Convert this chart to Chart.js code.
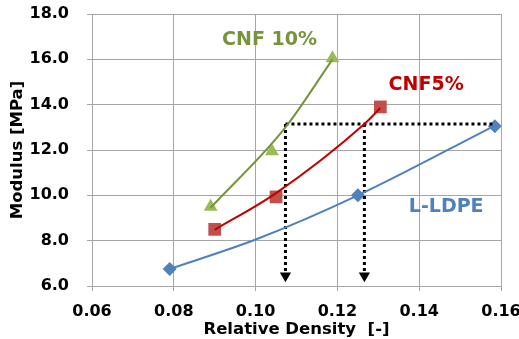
<!DOCTYPE html>
<html>
<head>
<meta charset="utf-8">
<script src="https://cdn.jsdelivr.net/npm/chart.js@4.4.1/dist/chart.umd.min.js"></script>
<style>
    html, body { margin: 0; padding: 0; background: #fff; }
</style>
</head>
<body>
<canvas id="modulusChart" width="519" height="339"></canvas>
<script>
// Measured points (relative density vs modulus)
const ldpeDensity = [0.079, 0.125, 0.1585];
const ldpeModulus = [6.75, 10.0, 13.05];
const cnf5Density = [0.090, 0.105, 0.1305];
const cnf5Modulus = [8.5, 9.93, 13.9];
const cnf10Density = [0.089, 0.104, 0.1188];
const cnf10Modulus = [9.5, 11.95, 16.05];

// Trend curves
const ldpeTrendDensity = [0.079, 0.100, 0.125, 0.1585];
const ldpeTrendModulus = [6.75, 8.05, 10.0, 13.08];
const cnf5TrendDensity = [0.090, 0.105, 0.1266, 0.1305];
const cnf5TrendModulus = [8.48, 10.1, 13.15, 13.85];
const cnf10TrendDensity = [0.089, 0.1073, 0.1188];
const cnf10TrendModulus = [9.45, 13.0, 16.0];

// Reference (dotted) lines
const refLineDensity = [0.1073, 0.1585];
const refLineModulus = [13.15, 13.15];
const arrowDensity = [0.1073, 0.1266];
const arrowModulus = [13.15, 6.45];

// Axis ticks
const xTicks = [0.06, 0.08, 0.10, 0.12, 0.14, 0.16];
const yTicks = [6.0, 8.0, 10.0, 12.0, 14.0, 16.0, 18.0];

const seriesNames = ["L-LDPE", "CNF5%", "CNF 10%"];

const toPoints = (xs, ys) => xs.map((v, i) => ({ x: v, y: ys[i] }));

const FONT = "'DejaVu Sans', Verdana, sans-serif";
const GRID = '#a6a6a6';

// Series name labels drawn inside the plot
const seriesLabels = {
    id: 'seriesLabels',
    afterDatasetsDraw(chart) {
        const { ctx, scales: { x, y } } = chart;
        const spots = [
            { at: [0.1466, 9.49], color: '#4f81bd' },
            { at: [0.1417, 14.87], color: '#c00000' },
            { at: [0.1034, 16.85], color: '#77933c' }
        ];
        ctx.save();
        ctx.font = "bold 19px " + FONT;
        ctx.textAlign = 'center';
        ctx.textBaseline = 'middle';
        seriesNames.forEach((name, i) => {
            ctx.fillStyle = spots[i].color;
            ctx.fillText(name, x.getPixelForValue(spots[i].at[0]), y.getPixelForValue(spots[i].at[1]));
        });
        ctx.restore();
    }
};

const dotted = (data) => ({
    type: 'line',
    data: data,
    borderColor: '#000',
    borderWidth: 3,
    borderDash: [3, 3],
    pointRadius: 0,
    fill: false
});

const arrow = (x) => ({
    type: 'line',
    data: toPoints([x, x], arrowModulus),
    borderColor: '#000',
    borderWidth: 3,
    borderDash: [3, 3],
    pointStyle: 'triangle',
    pointRadius: [0, 6.5],
    pointRotation: 180,
    pointBackgroundColor: '#000',
    pointBorderColor: '#000',
    pointBorderWidth: 0,
    fill: false
});

const curve = (xs, ys, color) => ({
    type: 'line',
    data: toPoints(xs, ys),
    borderColor: color,
    borderWidth: 2,
    cubicInterpolationMode: 'monotone',
    pointRadius: 0,
    fill: false
});

const markers = (xs, ys, style, color, r) => ({
    type: 'scatter',
    data: toPoints(xs, ys),
    pointStyle: style,
    pointRadius: r,
    pointBackgroundColor: color,
    pointBorderColor: color,
    pointBorderWidth: 0
});

const tickFont = { family: FONT, size: 16, weight: 'bold' };
const titleFont = { family: FONT, size: 16.5, weight: 'bold' };

new Chart(document.getElementById('modulusChart'), {
    type: 'scatter',
    data: {
        datasets: [
            curve(ldpeTrendDensity, ldpeTrendModulus, '#4f81bd'),
            curve(cnf5TrendDensity, cnf5TrendModulus, '#c00000'),
            curve(cnf10TrendDensity, cnf10TrendModulus, '#77933c'),
            dotted(toPoints(refLineDensity, refLineModulus)),
            arrow(arrowDensity[0]),
            arrow(arrowDensity[1]),
            markers(ldpeDensity, ldpeModulus, 'rectRot', '#4f81bd', 7),
            markers(cnf5Density, cnf5Modulus, 'rect', '#c0504d', 9),
            markers(cnf10Density, cnf10Modulus, 'triangle', '#9bbb59', 8)
        ]
    },
    options: {
        responsive: false,
        animation: false,
        layout: { padding: { left: 0, right: 18, top: 14, bottom: 0 } },
        plugins: {
            legend: { display: false },
            tooltip: { enabled: false }
        },
        scales: {
            x: {
                type: 'linear',
                min: xTicks[0],
                max: xTicks[xTicks.length - 1],
                afterBuildTicks: (s) => { s.ticks = xTicks.map(v => ({ value: v })); },
                afterFit: (s) => { s.height = 53; s.paddingLeft = 0; s.paddingRight = 0; },
                ticks: {
                    color: '#000',
                    padding: 11,
                    font: tickFont,
                    callback: (v) => Number(v).toFixed(2)
                },
                grid: { color: GRID, tickLength: 5 },
                border: { color: GRID },
                title: {
                    display: true,
                    text: 'Relative Density  [-]',
                    color: '#000',
                    font: titleFont,
                    padding: { top: 0, bottom: -1 }
                }
            },
            y: {
                type: 'linear',
                min: yTicks[0],
                max: yTicks[yTicks.length - 1],
                afterBuildTicks: (s) => { s.ticks = yTicks.map(v => ({ value: v })); },
                afterFit: (s) => { s.width = 92; s.paddingTop = 0; s.paddingBottom = 0; },
                ticks: {
                    color: '#000',
                    padding: 18,
                    font: tickFont,
                    callback: (v) => Number(v).toFixed(1)
                },
                grid: { color: GRID, tickLength: 5 },
                border: { color: GRID },
                title: {
                    display: true,
                    text: 'Modulus [MPa]',
                    color: '#000',
                    font: titleFont,
                    padding: { top: 8, bottom: 0 }
                }
            }
        }
    },
    plugins: [seriesLabels]
});
</script>
</body>
</html>
